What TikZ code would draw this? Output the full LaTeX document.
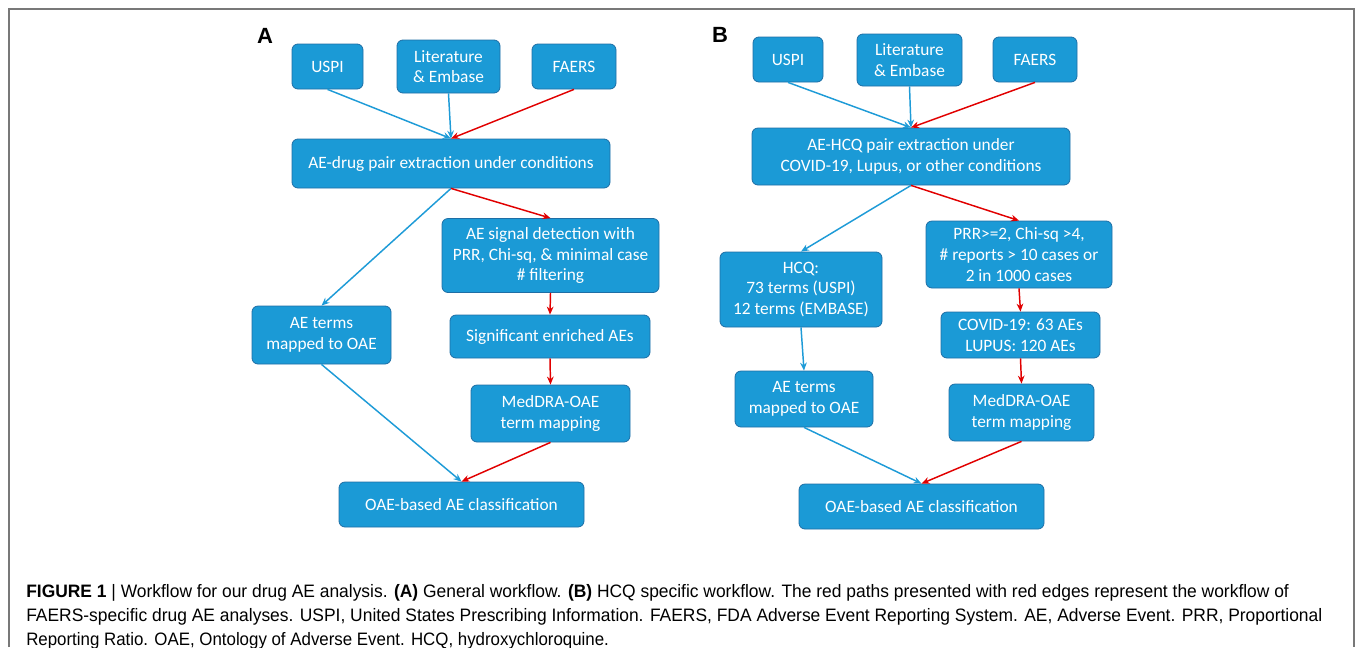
\documentclass[tikz,border=0pt]{standalone}
\usepackage{fontspec}
\setmainfont{Carlito}
\newfontfamily\capfont{Liberation Sans}
\usetikzlibrary{arrows.meta}
\definecolor{boxfill}{RGB}{27,154,214}
\definecolor{boxline}{RGB}{30,110,165}
\definecolor{bluearr}{RGB}{30,155,215}
\definecolor{redarr}{RGB}{225,0,0}
\definecolor{framegray}{RGB}{120,120,120}
\tikzset{
  fbox/.style={draw=boxline, line width=0.6pt, fill=boxfill, rounded corners=4.5pt,
    text=white, align=center, inner sep=0pt, font=\fontsize{13}{15.5}\selectfont},
  barr/.style={draw=bluearr, line width=1.1pt, -{Stealth[length=6pt,width=5pt]}},
  rarr/.style={draw=redarr, line width=1.1pt, -{Stealth[length=6pt,width=5pt]}},
  plabel/.style={font=\capfont\bfseries\fontsize{16.5}{18}\selectfont},
  capline/.style={anchor=base west, inner sep=0pt, font=\capfont\fontsize{13.5}{15}\selectfont}
}
\begin{document}
\begin{tikzpicture}[x=0.75pt,y=-0.75pt]
\useasboundingbox (0,0) rectangle (1357,647);
% frame
\draw[framegray, line width=1.2pt] (9,647) -- (9,9) -- (1354,9) -- (1354,647);

% Panel A
\node[plabel] (labA) at (265,36) {A};
\node[fbox, minimum width=53.25pt, minimum height=33.75pt] (uspiA) at (327.5,66.5) {USPI};
\node[fbox, minimum width=77.25pt, minimum height=39.75pt] (litA) at (448.5,66.5) {Literature\\\& Embase};
\node[fbox, minimum width=63pt, minimum height=33.75pt] (faersA) at (574,66.5) {FAERS};
\node[fbox, minimum width=238.5pt, minimum height=36.75pt] (pairA) at (451,163.5) {AE-drug pair extraction under conditions};
\node[fbox, minimum width=162.75pt, minimum height=55.5pt] (sigA) at (550.5,255.5) {AE signal detection with\\PRR, Chi-sq, \& minimal case\\\# filtering};
\node[fbox, minimum width=150pt, minimum height=32.25pt] (enrA) at (550,336.5) {Significant enriched AEs};
\node[fbox, minimum width=119.25pt, minimum height=42.75pt] (medA) at (550.5,413.5) {MedDRA-OAE\\term mapping};
\node[fbox, minimum width=104.25pt, minimum height=43.5pt] (termsA) at (321.5,335) {AE terms\\mapped to OAE};
\node[fbox, minimum width=183.75pt, minimum height=33.75pt] (oaeA) at (461.5,504.5) {OAE-based AE classification};

\draw[barr] (uspiA.south) -- (pairA.north);
\draw[barr] (litA.south) -- (pairA.north);
\draw[rarr] (faersA.south) -- (pairA.north);
\draw[barr] (pairA.south) -- (termsA.north);
\draw[rarr] (pairA.south) -- (sigA.north);
\draw[rarr] (sigA.south) -- (enrA.north);
\draw[rarr] (enrA.south) -- (medA.north);
\draw[barr] (termsA.south) -- (oaeA.north);
\draw[rarr] (medA.south) -- (oaeA.north);

% Panel B
\node[plabel] (labB) at (720,35) {B};
\node[fbox, minimum width=52.5pt, minimum height=33.75pt] (uspiB) at (788,59.5) {USPI};
\node[fbox, minimum width=78.75pt, minimum height=39pt] (litB) at (909.5,60) {Literature\\\& Embase};
\node[fbox, minimum width=63pt, minimum height=33.75pt] (faersB) at (1035,59.5) {FAERS};
\node[fbox, minimum width=238.5pt, minimum height=42.75pt] (pairB) at (911,156.5) {AE-HCQ pair extraction under\\COVID-19, Lupus, or other conditions};
\node[fbox, minimum width=139.5pt, minimum height=50.25pt] (prrB) at (1019,254.5) {PRR>=2, Chi-sq >4,\\\# reports > 10 cases or\\2 in 1000 cases};
\node[fbox, minimum width=121.5pt, minimum height=56.25pt] (hcqB) at (801,289.5) {HCQ:\\73 terms (USPI)\\12 terms (EMBASE)};
\node[fbox, minimum width=119.25pt, minimum height=34.5pt] (covB) at (1020.5,335) {COVID-19: 63 AEs\\LUPUS: 120 AEs};
\node[fbox, minimum width=103.5pt, minimum height=42pt] (termsB) at (804,399) {AE terms\\mapped to OAE};
\node[fbox, minimum width=108.75pt, minimum height=42.75pt] (medB) at (1021.5,412.5) {MedDRA-OAE\\term mapping};
\node[fbox, minimum width=183.75pt, minimum height=33.75pt] (oaeB) at (921.5,506.5) {OAE-based AE classification};

\draw[barr] (uspiB.south) -- (pairB.north);
\draw[barr] (litB.south) -- (pairB.north);
\draw[rarr] (faersB.south) -- (pairB.north);
\draw[barr] (pairB.south) -- (hcqB.north);
\draw[rarr] (pairB.south) -- (prrB.north);
\draw[barr] (hcqB.south) -- (termsB.north);
\draw[rarr] (prrB.south) -- (covB.north);
\draw[rarr] (covB.south) -- (medB.north);
\draw[barr] (termsB.south) -- (oaeB.north);
\draw[rarr] (medB.south) -- (oaeB.north);

% Caption
\node[capline] (cap1) at (26,597) {\resizebox{947pt}{\height}{\textbf{FIGURE 1} | Workflow for our drug AE analysis. \textbf{(A)} General workflow. \textbf{(B)} HCQ specific workflow. The red paths presented with red edges represent the workflow of}};
\node[capline] (cap2) at (26,621) {\resizebox{972pt}{\height}{FAERS-specific drug AE analyses. USPI, United States Prescribing Information. FAERS, FDA Adverse Event Reporting System. AE, Adverse Event. PRR, Proportional}};
\node[capline] (cap3) at (26,645) {\resizebox{437pt}{\height}{Reporting Ratio. OAE, Ontology of Adverse Event. HCQ, hydroxychloroquine.}};
\end{tikzpicture}
\end{document}
